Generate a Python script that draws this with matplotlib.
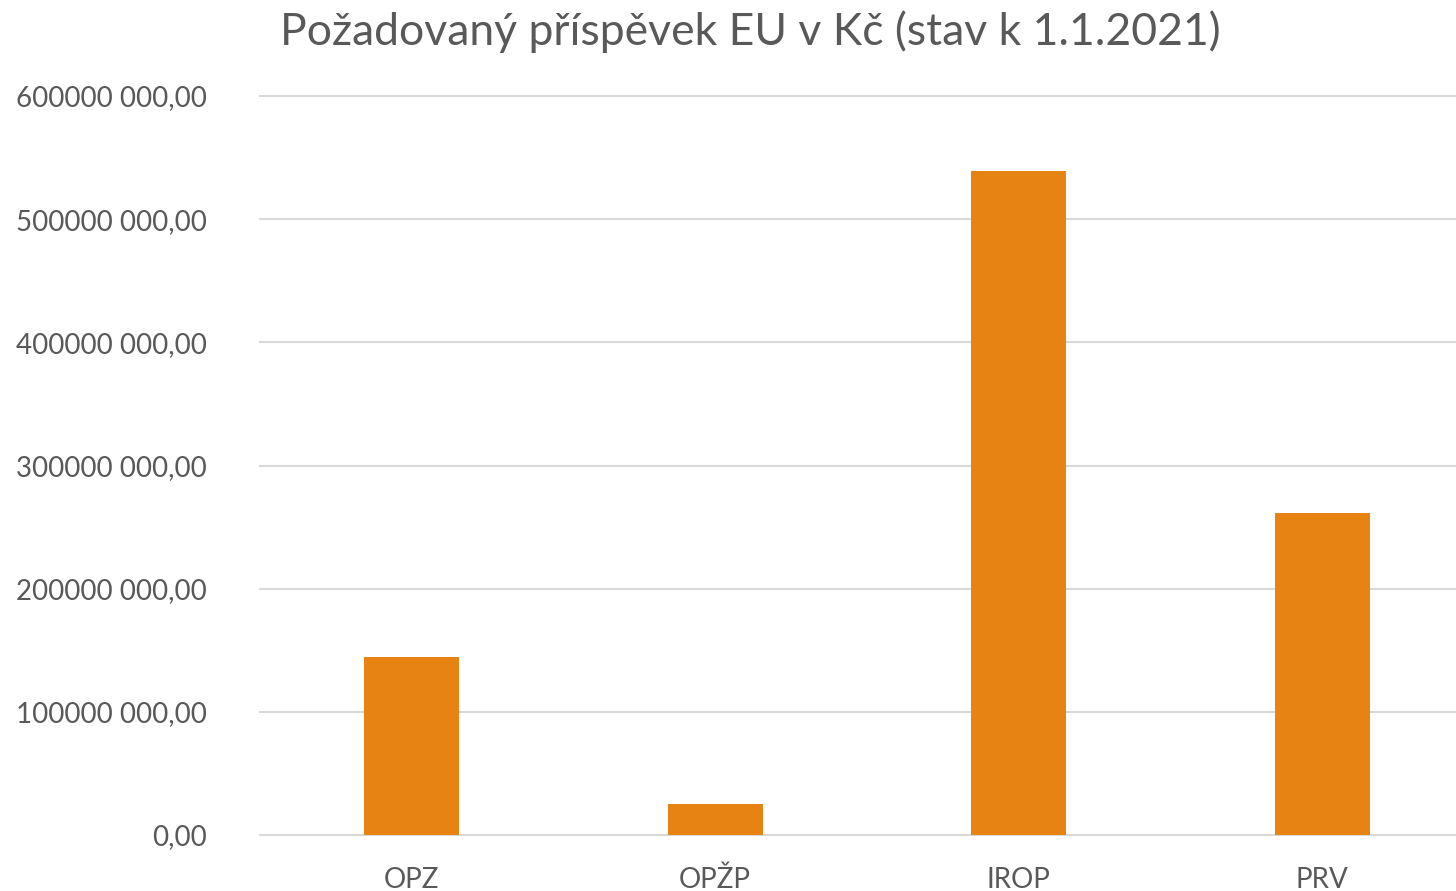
import matplotlib
matplotlib.use("Agg")
import matplotlib.pyplot as plt
from matplotlib.ticker import FuncFormatter, MultipleLocator

categories = ["OPZ", "OPŽP", "IROP", "PRV"]
values = [144.5e6, 25.2e6, 539.1e6, 261.5e6]
title = "Požadovaný příspěvek EU v Kč (stav k 1.1.2021)"

W, H = 1456, 891
fig = plt.figure(figsize=(W / 100, H / 100), dpi=100)
plt.rcParams['font.family'] = ['Lato', 'DejaVu Sans']
txt = '#595959'

left, right = 260, 1474
bottom, top = 835, 96
ax = fig.add_axes([left / W, 1 - bottom / H, (right - left) / W, (bottom - top) / H])

x = list(range(len(categories)))
ax.bar(x, values, width=0.313, color='#E68312', zorder=3)
ax.set_xlim(-0.5, 3.5)
ax.set_ylim(0, 600e6)
ax.yaxis.set_major_locator(MultipleLocator(100e6))

def fmt(v, pos):
    s = f"{v:.2f}"
    ip, dp = s.split('.')
    if len(ip) > 3:
        ip = ip[:-3] + " " + ip[-3:]
    return ip + "," + dp

ax.yaxis.set_major_formatter(FuncFormatter(fmt))
ax.set_xticks(x)
ax.set_xticklabels(categories)
ax.grid(axis='y', color='#D9D9D9', linewidth=1.5, zorder=0)
ax.set_axisbelow(True)
for ln in ax.get_ygridlines():
    ln.set_clip_on(False)
for s in ax.spines.values():
    s.set_visible(False)
ax.tick_params(axis='both', length=0, labelsize=20, labelcolor=txt)
ax.tick_params(axis='y', pad=38)
ax.tick_params(axis='x', pad=23)

fig.text(750 / W, 1 - 32 / H, title, ha='center', va='center', fontsize=32, color=txt)

fig.savefig("out.png", dpi=100)
